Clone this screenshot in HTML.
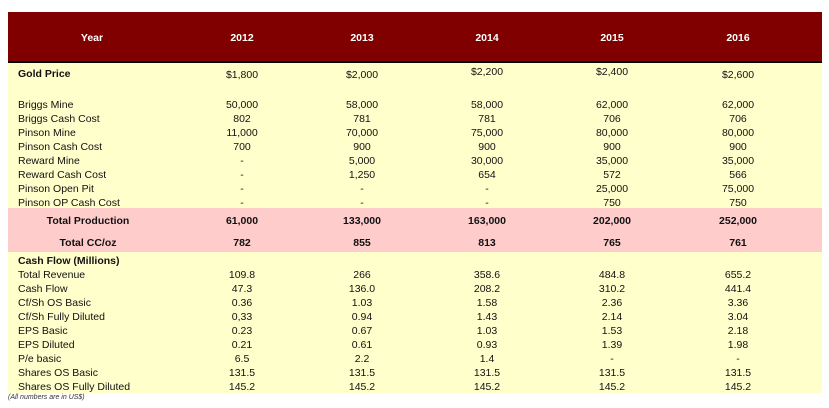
<!DOCTYPE html>
<html><head><style>
body{margin:0;width:829px;height:408px;background:#fff;position:relative;font-family:"Liberation Sans",sans-serif;overflow:hidden}
.b{position:absolute}
.t{position:absolute;font-size:10.5px;line-height:14px;color:#111;white-space:nowrap}
.c{transform:translateX(-50%)}
.bd{font-weight:bold}
.w{color:#fff;font-weight:bold}
</style></head><body>
<div class="b" style="left:8px;top:12px;width:814px;height:50px;background:#800000"></div>
<div class="b" style="left:8px;top:61px;width:814px;height:2px;background:#000"></div>
<div class="b" style="left:8px;top:63px;width:814px;height:145px;background:#FFFFCC"></div>
<div class="b" style="left:8px;top:208px;width:814px;height:44px;background:#FFCCCC"></div>
<div class="b" style="left:8px;top:252px;width:814px;height:141px;background:#FFFFCC"></div>
<div id="c"></div>
<div class="t" style="left:8px;top:393px;font-size:7px;line-height:10px;font-style:italic;color:#333">(All numbers are in US$)</div>
<script>
const X=[242,362,487,612,738];
let h='';
function cell(x,y,s,cls){h+=`<div class="t c ${cls||''}" style="left:${x}px;top:${y-6}px">${s}</div>`}
function lab(y,s,cls){h+=`<div class="t ${cls||''}" style="left:18px;top:${y-6}px">${s}</div>`}
cell(92,37,'Year','w');['2012','2013','2014','2015','2016'].forEach((s,i)=>cell(X[i],37,s,'w'));
lab(73,'Gold Price','bd');
['$1,800','$2,000','$2,200','$2,400','$2,600'].forEach((s,i)=>cell(X[i],[74,74,71,71,74][i],s));
const r1=[['Briggs Mine','50,000','58,000','58,000','62,000','62,000'],['Briggs Cash Cost','802','781','781','706','706'],['Pinson Mine','11,000','70,000','75,000','80,000','80,000'],['Pinson Cash Cost','700','900','900','900','900'],['Reward Mine','-','5,000','30,000','35,000','35,000'],['Reward Cash Cost','-','1,250','654','572','566'],['Pinson Open Pit','-','-','-','25,000','75,000'],['Pinson OP Cash Cost','-','-','-','750','750']];
r1.forEach((r,j)=>{let y=104+14*j;lab(y,r[0]);for(let i=0;i<5;i++)cell(X[i],y,r[i+1])});
cell(88,220,'Total Production','bd');['61,000','133,000','163,000','202,000','252,000'].forEach((s,i)=>cell(X[i],220,s,'bd'));
cell(88,242,'Total CC/oz','bd');['782','855','813','765','761'].forEach((s,i)=>cell(X[i],242,s,'bd'));
lab(260,'Cash Flow (Millions)','bd');
const r2=[['Total Revenue','109.8','266','358.6','484.8','655.2'],['Cash Flow','47.3','136.0','208.2','310.2','441.4'],['Cf/Sh OS Basic','0.36','1.03','1.58','2.36','3.36'],['Cf/Sh Fully Diluted','0,33','0.94','1.43','2.14','3.04'],['EPS Basic','0.23','0.67','1.03','1.53','2.18'],['EPS Diluted','0.21','0.61','0.93','1.39','1.98'],['P/e basic','6.5','2.2','1.4','-','-'],['Shares OS Basic','131.5','131.5','131.5','131.5','131.5'],['Shares OS Fully Diluted','145.2','145.2','145.2','145.2','145.2']];
r2.forEach((r,j)=>{let y=274+14*j;lab(y,r[0]);for(let i=0;i<5;i++)cell(X[i],y,r[i+1])});
document.getElementById('c').outerHTML=h;
</script>
</body></html>
